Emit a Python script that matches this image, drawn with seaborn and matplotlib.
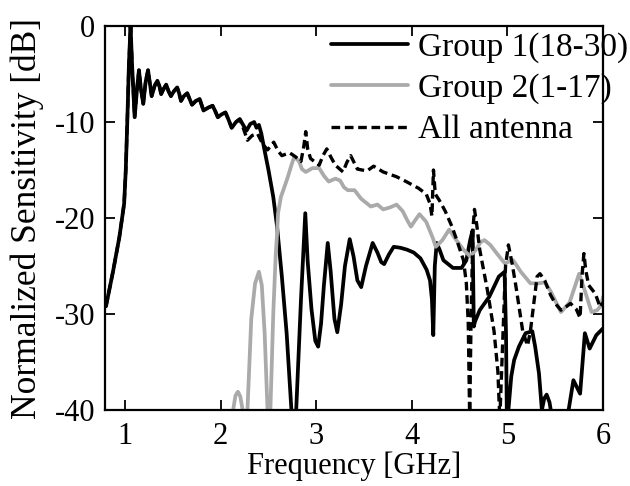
import numpy as np
import pandas as pd
import matplotlib
matplotlib.use('Agg')
import matplotlib.pyplot as plt
import seaborn as sns

# 共通部分（2.2 GHz まで Group 1 と All antenna は同じ）
early_x = [0.80, 0.875, 0.94, 0.99, 1.007, 1.024, 1.040, 1.057, 1.075, 1.10, 1.125, 1.145,
           1.165, 1.19, 1.215, 1.24, 1.26, 1.278, 1.31, 1.338, 1.36, 1.377, 1.40, 1.43,
           1.455, 1.48, 1.51, 1.545, 1.565, 1.585, 1.615, 1.65, 1.675, 1.70, 1.74, 1.78,
           1.80, 1.82, 1.87, 1.915, 1.94, 1.97, 2.01, 2.05, 2.08, 2.115, 2.16, 2.20]
early_y = [-29.2, -25.5, -22.0, -18.5, -15.0, -9.6, -4.0, 0.0, -4.5, -9.5, -6.5, -4.6,
           -6.5, -8.1, -5.8, -4.6, -6.0, -7.3, -6.2, -5.7, -6.3, -7.1, -6.6, -6.1,
           -6.8, -7.3, -6.8, -6.4, -7.0, -7.8, -7.3, -7.0, -7.6, -8.2, -7.8, -7.6,
           -8.2, -8.8, -8.5, -8.3, -8.8, -9.5, -9.2, -9.0, -9.7, -10.6, -10.0, -9.7]

# Group 1(18-30)
g1_x = early_x + [2.235, 2.27, 2.31, 2.35, 2.375, 2.40, 2.425, 2.45, 2.50, 2.55, 2.59, 2.64,
                  2.69, 2.74, 2.765, 2.79, 2.84, 2.885, 2.91, 2.95, 2.99, 3.02, 3.05, 3.08,
                  3.12, 3.15, 3.19, 3.22, 3.26, 3.30, 3.35, 3.39, 3.43, 3.47, 3.52, 3.59,
                  3.64, 3.68, 3.71, 3.76, 3.81, 3.88, 3.95, 4.02, 4.09, 4.155, 4.19, 4.21,
                  4.224, 4.24, 4.26, 4.29, 4.33, 4.43, 4.52, 4.57, 4.61, 4.635, 4.648, 4.66,
                  4.71, 4.81, 4.91, 4.97, 4.985, 4.995, 5.01, 5.04, 5.07, 5.12, 5.19, 5.26,
                  5.29, 5.33, 5.36, 5.385, 5.41, 5.44, 5.47, 5.55, 5.64, 5.69, 5.76, 5.81,
                  5.86, 5.93, 6.0]
g1_y = early_y + [-10.3, -10.9, -10.2, -10.0, -10.6, -10.3, -11.2, -12.5, -15.0, -17.8, -20.9, -26.1,
                  -32.0, -40.0, -42.0, -40.0, -28.5, -19.5, -24.5, -29.5, -32.8, -33.4, -31.0, -27.0,
                  -22.6, -25.5, -30.5, -31.9, -29.0, -25.0, -22.2, -24.0, -26.5, -27.2, -25.0, -22.6,
                  -23.6, -24.6, -24.8, -23.8, -23.0, -23.1, -23.3, -23.6, -24.2, -25.4, -26.5, -28.5,
                  -32.2, -25.0, -22.6, -23.3, -24.4, -25.2, -25.2, -24.4, -22.3, -21.3, -31.3, -30.8,
                  -29.6, -28.2, -26.1, -25.6, -32.0, -42.0, -40.0, -36.5, -34.8, -33.4, -32.0, -31.8,
                  -33.4, -36.2, -40.0, -38.8, -38.4, -39.2, -41.0, -44.0, -40.0, -36.9, -38.3, -32.0,
                  -33.6, -32.2, -31.5]

# Group 2(1-17)
g2_x = [2.10, 2.13, 2.155, 2.18, 2.205, 2.23, 2.255, 2.28, 2.32, 2.36, 2.40, 2.43, 2.46, 2.49,
        2.505, 2.52, 2.55, 2.575, 2.59, 2.60, 2.63, 2.655, 2.70, 2.74, 2.77, 2.82, 2.85, 2.89,
        2.96, 3.03, 3.08, 3.13, 3.20, 3.25, 3.29, 3.33, 3.40, 3.47, 3.52, 3.57, 3.64, 3.70,
        3.77, 3.84, 3.905, 3.95, 3.99, 4.03, 4.08, 4.15, 4.22, 4.25, 4.32, 4.39, 4.45, 4.54,
        4.61, 4.67, 4.72, 4.76, 4.82, 4.89, 4.97, 5.06, 5.14, 5.24, 5.33, 5.39, 5.45, 5.50,
        5.56, 5.65, 5.75, 5.82, 5.88, 5.94, 5.98, 6.0]
g2_y = [-44.0, -40.0, -38.5, -38.1, -38.6, -40.0, -44.0, -40.0, -30.5, -26.8, -25.6, -27.0, -32.0, -40.0,
        -44.0, -40.0, -30.0, -24.0, -21.6, -19.5, -17.8, -17.1, -15.8, -14.5, -13.6, -14.1, -14.9, -15.2,
        -14.8, -14.8, -15.6, -16.2, -15.9, -16.1, -16.8, -17.1, -17.1, -18.0, -18.4, -18.8, -18.6, -19.1,
        -18.9, -18.6, -19.3, -20.2, -20.9, -20.3, -19.6, -20.4, -22.1, -23.0, -22.3, -21.2, -22.1, -23.3,
        -24.0, -23.3, -22.5, -22.3, -22.8, -23.7, -24.7, -24.4, -25.6, -26.8, -26.8, -26.7, -27.6, -28.6,
        -29.8, -28.8, -25.8, -27.9, -29.8, -29.6, -29.1, -28.2]

# All antenna
all_x = early_x + [2.235, 2.28, 2.33, 2.385, 2.44, 2.49, 2.555, 2.60, 2.64, 2.72, 2.78, 2.84,
                   2.87, 2.89, 2.91, 2.94, 3.03, 3.07, 3.11, 3.15, 3.20, 3.28, 3.32, 3.36,
                   3.40, 3.43, 3.53, 3.60, 3.70, 3.84, 3.94, 4.07, 4.15, 4.19, 4.21, 4.226,
                   4.245, 4.29, 4.35, 4.42, 4.47, 4.54, 4.57, 4.59, 4.605, 4.62, 4.64, 4.655,
                   4.68, 4.71, 4.79, 4.86, 4.90, 4.92, 4.95, 4.98, 5.01, 5.05, 5.09, 5.16,
                   5.21, 5.24, 5.28, 5.31, 5.34, 5.39, 5.45, 5.50, 5.56, 5.62, 5.66, 5.72,
                   5.76, 5.78, 5.80, 5.82, 5.85, 5.92, 5.97, 6.0]
all_y = early_y + [-10.6, -11.9, -11.4, -11.2, -12.3, -12.9, -12.1, -13.0, -13.5, -13.2, -13.6, -14.1,
                   -12.5, -11.0, -12.8, -13.8, -14.5, -13.5, -12.8, -13.6, -14.5, -15.2, -14.2, -13.5,
                   -14.3, -14.9, -15.1, -14.6, -15.2, -15.7, -16.2, -16.9, -17.5, -18.5, -19.8, -15.0,
                   -17.5, -18.2, -19.3, -20.9, -22.3, -24.4, -26.8, -31.0, -41.0, -30.0, -21.0, -19.1,
                   -20.8, -23.3, -27.5, -31.8, -36.0, -41.0, -33.0, -25.0, -22.8, -24.8, -27.2, -31.8,
                   -33.3, -31.8, -28.5, -26.1, -25.8, -26.5, -28.0, -28.9, -29.6, -29.2, -28.9, -29.5,
                   -30.4, -26.0, -23.7, -25.5, -27.0, -27.9, -29.3, -28.8]

sns.set_style("ticks")
plt.rcParams['font.family'] = ['Liberation Serif', 'DejaVu Serif']
plt.rcParams['axes.unicode_minus'] = False   # 目盛りはハイフン表記
plt.rcParams['text.color'] = 'black'
plt.rcParams['axes.labelcolor'] = 'black'

fig = plt.figure(figsize=(6.3, 4.86), dpi=100)
ax = fig.add_axes([0.1667, 0.1564, 0.7905, 0.790])

sns.lineplot(x=g1_x, y=g1_y, ax=ax, color='black', linewidth=2.7,
             sort=False, estimator=None, label='Group 1(18-30)')
sns.lineplot(x=g2_x, y=g2_y, ax=ax, color='#aaaaaa', linewidth=2.7,
             sort=False, estimator=None, label='Group 2(1-17)')
sns.lineplot(x=all_x, y=all_y, ax=ax, color='black', linewidth=2.4,
             linestyle=(0, (2.6, 1.4)), sort=False, estimator=None, label='All antenna')

ax.set_xlim(0.79, 6.0)
ax.set_ylim(-40, 0)
ax.set_xticks([1, 2, 3, 4, 5, 6])
ax.set_yticks([0, -10, -20, -30, -40])
ax.tick_params(direction='in', top=True, right=True, length=7, width=1.3,
               labelsize=22, colors='black')
ax.tick_params(axis='x', pad=9)
ax.tick_params(axis='y', pad=7)
for s in ax.spines.values():
    s.set_linewidth(1.6)
    s.set_color('black')

ax.set_xlabel('Frequency [GHz]', fontsize=22, labelpad=0)
ax.set_ylabel('Normalized Sensitivity [dB]', fontsize=25.5, labelpad=8)

ax.legend(loc='upper right', bbox_to_anchor=(628 / 630, 1 - 32 / 486), bbox_transform=fig.transFigure,
          frameon=False, fontsize=24, handlelength=2.3, handletextpad=0.3,
          labelspacing=0.32, borderaxespad=0, borderpad=0)

fig.savefig('out.png', dpi=100)
